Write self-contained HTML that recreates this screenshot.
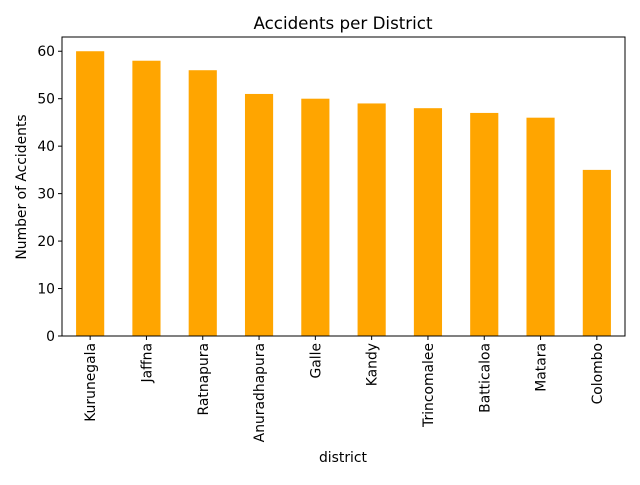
<!DOCTYPE html>
<html><head><meta charset="utf-8"><style>
body{margin:0;background:#fff;font-family:"Liberation Sans","DejaVu Sans",sans-serif;}
svg text{font-family:"DejaVu Sans","Liberation Sans",sans-serif;fill:#000;}
</style></head><body>
<svg id="chart" width="640" height="480" viewBox="0 0 640 480" xmlns="http://www.w3.org/2000/svg">
<rect width="640" height="480" fill="#fff"/>
<text x="343" y="29" font-size="16.7" text-anchor="middle">Accidents per District</text>
<text x="343" y="462" font-size="13.9" text-anchor="middle">district</text>
<text transform="translate(26,187) rotate(-90)" font-size="13.9" text-anchor="middle">Number of Accidents</text>
<g id="bars"></g><g id="yticks"></g><g id="xticks"></g>
<rect x="62" y="37" width="563" height="299" fill="none" stroke="#000" stroke-width="1"/>
</svg>
<script>
const categories=["Kurunegala","Jaffna","Ratnapura","Anuradhapura","Galle","Kandy","Trincomalee","Batticaloa","Matara","Colombo"];
const values=[60,58,56,51,50,49,48,47,46,35];
const yTicks=[0,10,20,30,40,50,60];
const L=62,R=625,T=37,B=336,yMax=63;
const NS="http://www.w3.org/2000/svg";
const xs=i=>L+(i+0.5)*(R-L)/categories.length;
const ys=v=>B-v*(B-T)/yMax;
const bw=0.5*(R-L)/categories.length;
const bars=document.getElementById('bars'),yt=document.getElementById('yticks'),xt=document.getElementById('xticks');
function mk(tag,attrs){const e=document.createElementNS(NS,tag);for(const k in attrs)e.setAttribute(k,attrs[k]);return e;}
categories.forEach((c,i)=>{
  const r=mk('rect',{x:xs(i)-bw/2,y:ys(values[i]),width:bw,height:B-ys(values[i]),fill:'#ffa500'});
  
  
  bars.appendChild(r);
  const tk=mk('line',{x1:xs(i),x2:xs(i),y1:B,y2:B+4,stroke:'#000'});
  
  
  xt.appendChild(tk);
  const t=mk('text',{transform:`translate(${xs(i)+5},${B+7}) rotate(-90)`,'font-size':13.9,'text-anchor':'end'});
  t.textContent=c;
  
  
  xt.appendChild(t);
});
yTicks.forEach(v=>{
  const tk=mk('line',{x1:L-4,x2:L,y1:ys(v),y2:ys(v),stroke:'#000'});
  
  
  yt.appendChild(tk);
  const t=mk('text',{x:L-7,y:ys(v)+5,'font-size':13.9,'text-anchor':'end'});
  t.textContent=v;
  
  
  yt.appendChild(t);
});
</script>
</body></html>
